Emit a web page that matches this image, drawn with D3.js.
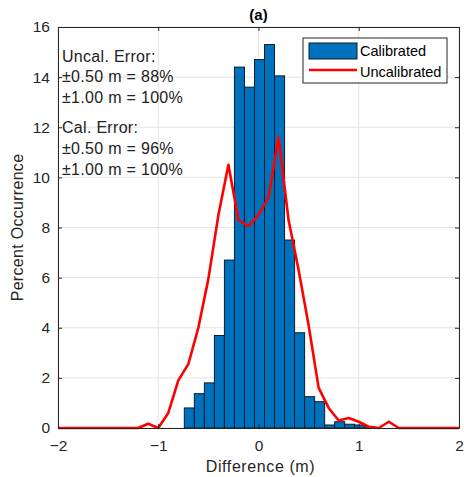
<!DOCTYPE html>
<html>
<head>
<meta charset="utf-8">
<script src="https://cdn.jsdelivr.net/npm/d3@7"></script>
<style>
  html, body { margin: 0; padding: 0; background: #fff; }
  svg { display: block; font-family: "Liberation Sans", Arial, sans-serif; }
</style>
</head>
<body>
<svg id="chart" width="464" height="477"></svg>
<script>
// ---- data ----
const binStart = -0.74;
const binWidth = 0.1;
const calibrated = [0.8, 1.37, 1.8, 3.69, 6.7, 14.4, 13.6, 14.7, 15.3, 14.05, 7.5, 3.8, 1.25, 1.05, 0.12, 0.25, 0.15, 0.12, 0.06];
const uncalX = [-2, -1.2, -1.1, -1.0, -0.9, -0.8, -0.7, -0.6, -0.5, -0.4, -0.3, -0.2, -0.1, 0.0, 0.1, 0.2, 0.3, 0.4, 0.5, 0.6, 0.7, 0.8, 0.9, 1.0, 1.1, 1.2, 1.3, 1.4, 2];
const uncalY = [0, 0, 0.17, 0, 0.6, 1.9, 2.55, 4.0, 5.95, 8.5, 10.5, 8.3, 8.05, 8.5, 9.2, 11.6, 8.3, 6.3, 4.1, 1.6, 0.8, 0.3, 0.4, 0.25, 0.05, 0, 0.25, 0, 0];
const xTicks = [-2, -1, 0, 1, 2];
const yTicks = [0, 2, 4, 6, 8, 10, 12, 14, 16];
const annotUncal = ["Uncal. Error:", "\u00b10.50 m = 88%", "\u00b11.00 m = 100%"];
const annotCal = ["Cal. Error:", "\u00b10.50 m = 96%", "\u00b11.00 m = 100%"];
const legendLabels = ["Calibrated", "Uncalibrated"];

// ---- layout ----
const svg = d3.select("#chart");
const L = 58, R = 459, T = 27, B = 428;
const x = d3.scaleLinear().domain([-2, 2]).range([L, R]);
const y = d3.scaleLinear().domain([0, 16]).range([B, T]);
const axisColor = "#262626";
const barColor = "#0072BD";

// grid
const g = svg.append("g");
g.selectAll(".gx").data(xTicks).join("line")
  .attr("x1", d => x(d)).attr("x2", d => x(d)).attr("y1", T).attr("y2", B)
  .attr("stroke", "#e3e3e3").attr("stroke-width", 1);
g.selectAll(".gy").data(yTicks).join("line")
  .attr("x1", L).attr("x2", R).attr("y1", d => y(d)).attr("y2", d => y(d))
  .attr("stroke", "#e3e3e3").attr("stroke-width", 1);

// bars
g.selectAll(".bar").data(calibrated).join("rect")
  .attr("x", (d, i) => x(binStart + i * binWidth))
  .attr("width", (d, i) => x(binStart + (i + 1) * binWidth) - x(binStart + i * binWidth))
  .attr("y", d => y(d))
  .attr("height", d => y(0) - y(d))
  .attr("fill", barColor)
  .attr("stroke", "#0d1b2a").attr("stroke-width", 1);

// line
const pts = uncalX.map((v, i) => [v, uncalY[i]]);
g.append("path")
  .attr("d", d3.line().x(d => x(d[0])).y(d => y(d[1]))(pts))
  .attr("fill", "none").attr("stroke", "#ff0000").attr("stroke-width", 2.6)
  .attr("stroke-linejoin", "round");

// axes (box with inward ticks)
const tick = 4;
const axB = svg.append("g").attr("transform", `translate(0,${B})`)
  .call(d3.axisBottom(x).tickValues(xTicks).tickSizeInner(-tick).tickSizeOuter(0).tickPadding(12).tickFormat(d3.format("d")));
const axT = svg.append("g").attr("transform", `translate(0,${T})`)
  .call(d3.axisTop(x).tickValues(xTicks).tickSizeInner(-tick).tickSizeOuter(0).tickFormat(""));
const axL = svg.append("g").attr("transform", `translate(${L},0)`)
  .call(d3.axisLeft(y).tickValues(yTicks).tickSizeInner(-tick).tickSizeOuter(0).tickPadding(8).tickFormat(d3.format("d")));
const axR = svg.append("g").attr("transform", `translate(${R},0)`)
  .call(d3.axisRight(y).tickValues(yTicks).tickSizeInner(-tick).tickSizeOuter(0).tickFormat(""));
[axB, axT, axL, axR].forEach(a => {
  a.select(".domain").attr("stroke", axisColor);
  a.selectAll(".tick line").attr("stroke", axisColor);
  a.selectAll("text").attr("fill", axisColor).style("font-size", "15.5px")
   .style("font-family", "'Liberation Sans', Arial, sans-serif");
});

// title and labels
svg.append("text").attr("x", (L + R) / 2).attr("y", 20).attr("text-anchor", "middle")
  .style("font-size", "15px").style("font-weight", "bold").attr("fill", "#000").text("(a)");
svg.append("text").attr("x", (L + R) / 2 + 2).attr("y", 472).attr("text-anchor", "middle")
  .style("font-size", "16px").style("letter-spacing", "0.6px").attr("fill", axisColor).text("Difference (m)");
svg.append("text").attr("transform", `translate(23,${(T + B) / 2}) rotate(-90)`)
  .attr("text-anchor", "middle").style("font-size", "16px").style("letter-spacing", "0.3px").attr("fill", axisColor)
  .text("Percent Occurrence");

// annotations
const ann = svg.append("g").style("font-size", "16px").style("letter-spacing", "0.3px").attr("fill", "#222");
annotUncal.forEach((t, i) => ann.append("text").attr("x", 62).attr("y", 62 + i * 20.3).text(t));
annotCal.forEach((t, i) => ann.append("text").attr("x", 62).attr("y", 133 + i * 21).text(t));

// legend
const lg = svg.append("g");
lg.append("rect").attr("x", 303).attr("y", 38).attr("width", 144).attr("height", 45)
  .attr("fill", "#fff").attr("stroke", axisColor).attr("stroke-width", 1);
lg.append("rect").attr("x", 309).attr("y", 43).attr("width", 48).attr("height", 16)
  .attr("fill", barColor).attr("stroke", "#0d1b2a");
lg.append("line").attr("x1", 309).attr("x2", 357).attr("y1", 70).attr("y2", 70)
  .attr("stroke", "#ff0000").attr("stroke-width", 2.6);
lg.selectAll(".lt").data(legendLabels).join("text")
  .attr("x", 360).attr("y", (d, i) => 56 + i * 21)
  .style("font-size", "14.5px").attr("fill", "#000").text(d => d);
</script>
</body>
</html>
